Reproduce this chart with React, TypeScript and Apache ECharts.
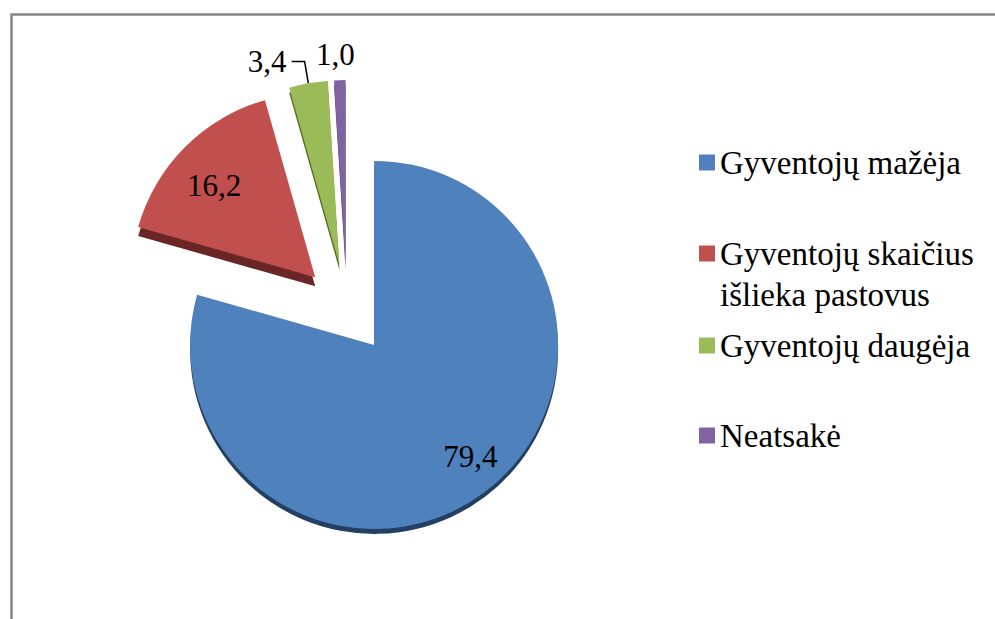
import React, { useEffect, useRef } from "react";
import * as echarts from "echarts";

const categories = [
  "Gyventojų mažėja",
  "Gyventojų skaičius išlieka pastovus",
  "Gyventojų daugėja",
  "Neatsakė",
];
const values = [79.4, 16.2, 3.4, 1.0];
const legendLines = [
  ["Gyventojų mažėja"],
  ["", "Gyventojų skaičius", "išlieka pastovus"],
  ["Gyventojų daugėja"],
  ["Neatsakė"],
];

const colors = ["#4F81BD", "#C0504D", "#9BBB59", "#8064A2"];
const rimColors = ["#223f63", "#6b2826", "#4f6a22", "#4a3768"];
const legendTops = [142, 192, 325, 415];
const labelShifts = [
  { dx: 39, dy: 36 },
  { dx: -34, dy: -25 },
  { dx: 0, dy: 0 },
  { dx: 20, dy: -26 },
];

const FONT = "Liberation Serif";

export default function App() {
  const ref = useRef<HTMLDivElement>(null);
  useEffect(() => {
    document.body.style.margin = "0";
    const chart = echarts.init(ref.current!, null, { renderer: "svg" });
    const data = categories.map((name, i) => {
      const outside = i >= 2;
      return {
        name,
        value: values[i],
        selected: true,
        itemStyle: {
          color: colors[i],
          shadowColor: rimColors[i],
          shadowBlur: 0,
          shadowOffsetX: 0,
          shadowOffsetY: i === 1 ? 9 : 5,
        },
        label: { position: outside ? "outside" : "inside" },
        labelLine:
          i === 2
            ? { show: true, length: 22, length2: 13, lineStyle: { color: "#000", width: 1.5 } }
            : { show: false, length: 0, length2: 0 },
      };
    });
    chart.setOption({
      animation: false,
      backgroundColor: "#fff",
      textStyle: { fontFamily: FONT },
      graphic: [
        {
          type: "rect",
          left: 9,
          top: 12,
          shape: { width: 1000, height: 700 },
          style: { fill: "none", stroke: "#878787", lineWidth: 2.5 },
        },
      ],
      legend: categories.map((name, i) => ({
        data: [name],
        orient: "vertical",
        left: 699,
        top: legendTops[i],
        padding: 0,
        icon: "rect",
        itemWidth: 16,
        itemHeight: 16,
        selectedMode: false,
        itemStyle: { shadowBlur: 0, shadowOffsetX: 0, shadowOffsetY: 0, shadowColor: "transparent" },
        formatter: () => legendLines[i].join("\n"),
        textStyle: {
          fontFamily: FONT,
          fontSize: 33,
          lineHeight: 41,
          color: "#000",
        },
      })),
      series: [
        {
          type: "pie",
          center: [347, 309],
          radius: [0, 184],
          startAngle: 90,
          clockwise: true,
          selectedMode: "multiple",
          selectedOffset: 45,
          avoidLabelOverlap: false,
          silent: true,
          select: { itemStyle: { borderWidth: 0 } },
          emphasis: { disabled: true },
          label: {
            show: true,
            fontFamily: FONT,
            fontSize: 31,
            color: "#000",
            formatter: (p: any) => p.value.toFixed(1).replace(".", ","),
          },
          labelLayout: (p: any) => labelShifts[p.dataIndex],
          data,
        },
      ],
    });
    return () => chart.dispose();
  }, []);
  return <div ref={ref} style={{ width: 995, height: 619 }} />;
}
